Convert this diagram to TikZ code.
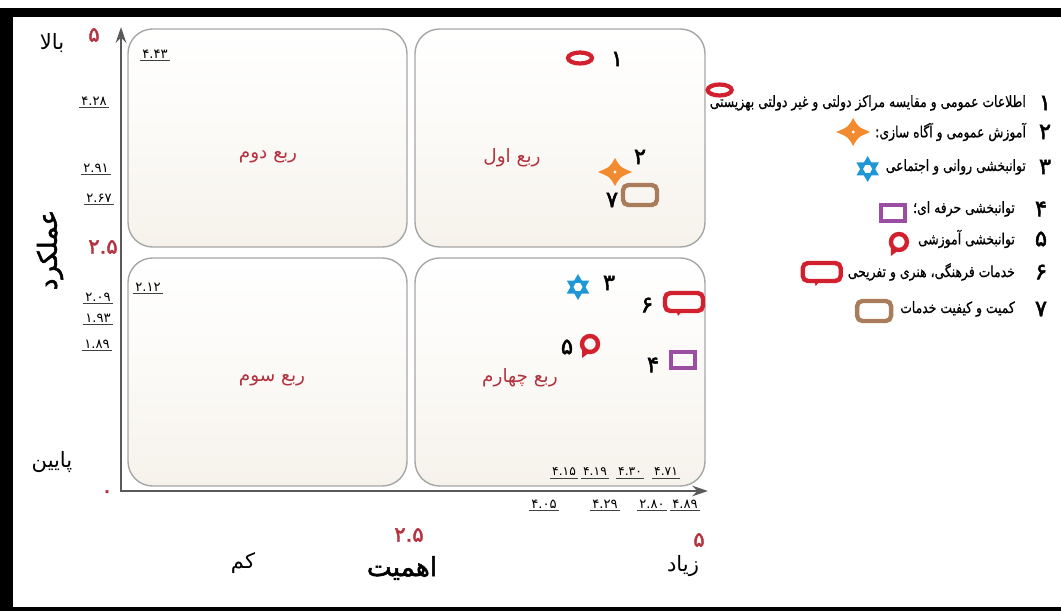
\documentclass[tikz,border=0pt]{standalone}
\usepackage{fontspec}
\usetikzlibrary{arrows.meta,positioning}
\newfontfamily\fa[Script=Arabic]{DejaVu Sans}
\newfontfamily\fab[Script=Arabic,FakeBold=2]{DejaVu Sans}
\newfontfamily\fal[Script=Arabic,FakeStretch=0.8,FakeBold=0.6]{DejaVu Sans}
\TeXXeTstate=1
\definecolor{qred}{HTML}{B3323F}
\definecolor{mred}{HTML}{D3202F}
\definecolor{morange}{HTML}{F28A30}
\definecolor{mblue}{HTML}{1E98D5}
\definecolor{mpurple}{HTML}{9A4DA3}
\definecolor{mbrown}{HTML}{A97C5C}
\definecolor{boxbeige}{HTML}{F6F2EB}
\definecolor{axisgray}{HTML}{5A5A5A}
\tikzset{
  quad/.style={draw=gray!70, line width=0.8pt, rounded corners=14pt,
               top color=white, bottom color=boxbeige, middle color=white!60!boxbeige},
  qlabel/.style={font=\fa\fontsize{10.5}{12}\selectfont, text=qred},
  val/.style={font=\fa\fontsize{7.5}{9}\selectfont, inner sep=1.3pt},
  smallval/.style={font=\fa\fontsize{7}{9}\selectfont, inner sep=1pt},
  tickline/.style={draw=black!75, line width=0.6pt},
  redval/.style={font=\fab\fontsize{12}{14}\selectfont, text=qred},
  num/.style={font=\fab\fontsize{13}{14}\selectfont, inner sep=0pt},
  legend/.style={font=\fal\fontsize{8.8}{10}\selectfont, inner sep=1pt},
  word/.style={font=\fa\fontsize{12}{14}\selectfont},
  title/.style={font=\fab\fontsize{15}{18}\selectfont},
  axis/.style={draw=axisgray, line width=1.4pt,
               {Stealth[length=9pt,width=6pt]}-{Stealth[length=9pt,width=6pt]}},
  % markers
  ringmark/.pic={\draw[mred, line width=2.4pt, fill=white] (0,0) ellipse (12 and 5.5);},
  fourmark/.pic={
    \fill[morange] (17,0) .. controls (5,-5) .. (0,-14) .. controls (-5,-5) .. (-17,0)
      .. controls (-5,5) .. (0,14) .. controls (5,5) .. (17,0) -- cycle;
    \fill[white] (0,0) circle (1.6);},
  hexmark/.pic={
    \fill[mblue] (90:13) -- (210:13) -- (330:13) -- cycle;
    \fill[mblue] (270:13) -- (30:13) -- (150:13) -- cycle;
    \fill[white] (0:4.5) -- (60:4.5) -- (120:4.5) -- (180:4.5) -- (240:4.5) -- (300:4.5) -- cycle;},
  boxmark/.pic={\draw[mpurple, line width=2.3pt] (-12,-8) rectangle (12,8);},
  roundbubble/.pic={
    \draw[mred, line width=2.5pt] (0,0) circle (8);
    \fill[mred] (-8,3) -- (-8,14) -- (0,8) -- cycle;},
  rectbubble/.pic={
    \draw[mred, line width=2.5pt, rounded corners=3pt] (-19,-9) rectangle (19,9);
    \fill[mred] (-8,8) -- (-6,14) -- (-1,8) -- cycle;},
  brownmark/.pic={\draw[mbrown, line width=2.5pt, rounded corners=3pt] (-17,-10) rectangle (17,10);}
}
\begin{document}
\begin{tikzpicture}[x=0.02cm, y=-0.02cm]
\useasboundingbox (0,0) rectangle (1061,611);
% frame
\fill (0,8) rectangle (1061,17);
\fill (0,8) rectangle (13,611);
\fill (0,607) rectangle (1061,611);

% quadrants
\draw[quad] (128,29) rectangle (407,247);
\draw[quad] (415,29) rectangle (705,247);
\draw[quad] (128,258) rectangle (407,486);
\draw[quad] (415,258) rectangle (705,486);
\node[qlabel] (q1) at (512,158) {\beginR ربع اول\endR};
\node[qlabel] (q2) at (268,157) {\beginR ربع دوم\endR};
\node[qlabel] (q3) at (272,380) {\beginR ربع سوم\endR};
\node[qlabel] (q4) at (520,378) {\beginR ربع چهارم\endR};

% axes
\coordinate (O) at (121,491);
\coordinate (ytop) at (121,27);
\coordinate (xend) at (708,491);
\draw[axis] (ytop) -- (O) -- (xend);

% values on the axes
\foreach \v/\px/\py [count=\i] in {۴.۴۳/155/54, ۴.۲۸/94/101, ۲.۹۱/96/168, ۲.۶۷/99/198,
    ۲.۱۲/148/287, ۲.۰۹/98/297, ۱.۹۳/98/318, ۱.۸۹/97/344,
    ۴.۰۵/544/504, ۴.۲۹/605/504, ۲.۸۰/652/504, ۴.۸۹/685/504}{
  \node[val] (v\i) at (\px,\py) {\v};
  \draw[tickline] (v\i.south west) -- (v\i.south east);
}
\foreach \v/\px [count=\i] in {۴.۱۵/564, ۴.۱۹/595, ۴.۳۰/630, ۴.۷۱/666}{
  \node[smallval] (w\i) at (\px,472) {\v};
  \draw[tickline] (w\i.south west) -- (w\i.south east);
}

% axis texts
\node[redval] (ymax) at (94,35) {۵};
\node[word] (high) at (52,43) {\beginR بالا\endR};
\node[title, rotate=90] (perf) at (50,250) {\beginR عملکرد\endR};
\node[redval] (ymid) at (103,247) {۲.۵};
\node[word] (low) at (52,462) {\beginR پایین\endR};
\node[redval] (zero) at (107,494) {۰};
\node[word] (few) at (243,563) {\beginR کم\endR};
\node[redval] (xmid) at (409,535) {۲.۵};
\node[title] (imp) at (402,568) {\beginR اهمیت\endR};
\node[redval] (xmax) at (699,540) {۵};
\node[word] (many) at (683,566) {\beginR زیاد\endR};

% points
\pic at (580,58) {ringmark};
\node[num] (p1) at (617,59) {۱};
\pic at (615,172) {fourmark};
\node[num] (p2) at (640,157) {۲};
\pic at (640,195) {brownmark};
\node[num] (p7) at (612,200) {۷};
\pic at (578,287) {hexmark};
\node[num] (p3) at (609,283) {۳};
\pic at (684,302) {rectbubble};
\node[num] (p6) at (647,305) {۶};
\pic at (590,344) {roundbubble};
\node[num] (p5) at (567,347) {۵};
\pic at (683,360) {boxmark};
\node[num] (p4) at (653,365) {۴};

% legend
\node[num] (n1) at (1045,103) {۱};
\node[legend, left=6pt of n1] (t1) {\beginR اطلاعات عمومی و مقایسه مراکز دولتی و غیر دولتی بهزیستی\endR};
\path (t1.west) ++(12,-13) pic {ringmark};
\node[num] (n2) at (1045,132) {۲};
\node[legend, left=6pt of n2] (t2) {\beginR آموزش عمومی و آگاه سازی:\endR};
\path (t2.west) ++(-20,0) pic {fourmark};
\node[num] (n3) at (1045,167) {۳};
\node[legend, left=6pt of n3] (t3) {\beginR توانبخشی روانی و اجتماعی\endR};
\path (t3.west) ++(-16,2) pic {hexmark};
\node[num] (n4) at (1041,209) {۴};
\node[legend, left=10pt of n4] (t4) {\beginR توانبخشی حرفه ای؛\endR};
\path (t4.west) ++(-18,4) pic {boxmark};
\node[num] (n5) at (1041,239) {۵};
\node[legend, left=10pt of n5] (t5) {\beginR توانبخشی آموزشی\endR};
\path (t5.west) ++(-17,3) pic {roundbubble};
\node[num] (n6) at (1041,272) {۶};
\node[legend, left=10pt of n6] (t6) {\beginR خدمات فرهنگی، هنری و تفریحی\endR};
\path (t6.west) ++(-24,0) pic {rectbubble};
\node[num] (n7) at (1041,309) {۷};
\node[legend, left=10pt of n7] (t7) {\beginR کمیت و کیفیت خدمات\endR};
\path (t7.west) ++(-24,2) pic {brownmark};
\end{tikzpicture}
\end{document}
